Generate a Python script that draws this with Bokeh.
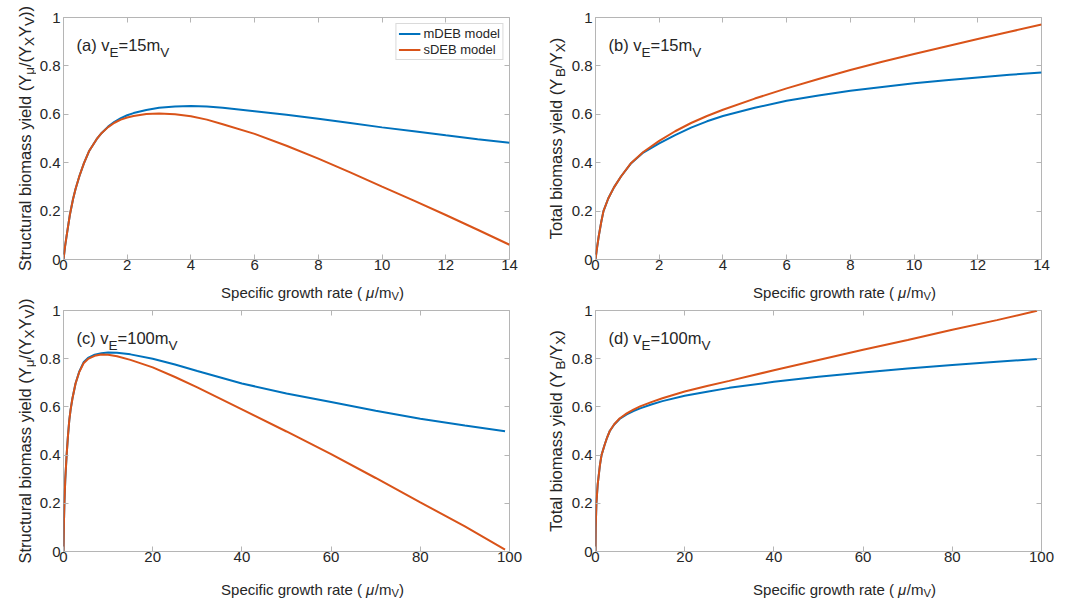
import math
from bokeh.plotting import figure
from bokeh.layouts import column, row
from bokeh.models import Label, FixedTicker, LinearAxis, Range1d, CustomLabelingPolicy
from bokeh.embed import file_html
from bokeh.resources import INLINE

# ---------------- data ----------------
# (a) v_E = 15 m_V : structural biomass yield
xa = [0, 0.05, 0.1, 0.2, 0.3, 0.38, 0.5, 0.64, 0.8, 1.04, 1.2, 1.4, 1.6, 1.8, 2.0, 2.2, 2.6, 3, 3.5,
      4, 4.5, 5, 6, 7, 8, 9, 10, 11, 12, 13, 14]
a_mdeb = [0, 0.055, 0.1, 0.185, 0.25, 0.292, 0.345, 0.397, 0.447, 0.497, 0.523, 0.549, 0.569, 0.584,
          0.596, 0.605, 0.618, 0.627, 0.632, 0.634, 0.632, 0.627, 0.613, 0.598, 0.582, 0.564, 0.546,
          0.53, 0.513, 0.497, 0.482]
a_sdeb = [0, 0.055, 0.1, 0.185, 0.25, 0.292, 0.345, 0.397, 0.447, 0.497, 0.523, 0.547, 0.565, 0.578,
          0.587, 0.593, 0.601, 0.603, 0.6, 0.592, 0.578, 0.559, 0.519, 0.47, 0.417, 0.36, 0.301,
          0.243, 0.184, 0.123, 0.061]

# (b) v_E = 15 m_V : total biomass yield
xb = [0, 0.05, 0.1, 0.18, 0.25, 0.4, 0.58, 0.8, 1.12, 1.5, 2, 2.5, 3, 3.5, 4, 5, 6, 7, 8, 9, 10,
      11, 12, 13, 14]
b_mdeb = [0, 0.05, 0.095, 0.155, 0.2, 0.252, 0.298, 0.343, 0.398, 0.442, 0.48, 0.514, 0.545, 0.571,
          0.593, 0.627, 0.656, 0.678, 0.697, 0.713, 0.728, 0.741, 0.752, 0.763, 0.773]
b_sdeb = [0, 0.05, 0.095, 0.155, 0.2, 0.252, 0.298, 0.343, 0.399, 0.444, 0.49, 0.53, 0.564, 0.593,
          0.619, 0.665, 0.707, 0.746, 0.783, 0.817, 0.849, 0.88, 0.911, 0.941, 0.971]

# (c) v_E = 100 m_V : structural biomass yield
xc = [0, 0.1, 0.2, 0.4, 0.7, 1.0, 1.3, 1.6, 2.0, 2.7, 3.5, 4.5, 5.5, 7, 8.5, 10, 12, 15, 20, 25,
      30, 40, 50, 60, 70, 80, 90, 99]
c_mdeb = [0, 0.12, 0.2, 0.3, 0.4, 0.48, 0.545, 0.59, 0.635, 0.697, 0.745, 0.785, 0.803, 0.817,
          0.823, 0.826, 0.825, 0.818, 0.80, 0.776, 0.749, 0.697, 0.656, 0.62, 0.584, 0.551, 0.523,
          0.499]
c_sdeb = [0, 0.12, 0.2, 0.3, 0.4, 0.48, 0.545, 0.59, 0.635, 0.697, 0.743, 0.781, 0.799, 0.812,
          0.817, 0.816, 0.81, 0.795, 0.764, 0.724, 0.681, 0.59, 0.498, 0.404, 0.305, 0.204, 0.104,
          0.008]

# (d) v_E = 100 m_V : total biomass yield
xd = [0, 0.05, 0.2, 0.5, 1.0, 1.35, 2, 2.6, 3.2, 4.2, 5.4, 7, 8.5, 10, 12.5, 15, 20, 25, 30, 40,
      50, 60, 70, 80, 90, 99]
d_mdeb = [0, 0.1, 0.2, 0.28, 0.36, 0.4, 0.44, 0.473, 0.5, 0.527, 0.55, 0.569, 0.583, 0.594, 0.61,
          0.624, 0.646, 0.663, 0.679, 0.704, 0.725, 0.743, 0.759, 0.774, 0.787, 0.799]
d_sdeb = [0, 0.1, 0.2, 0.28, 0.36, 0.4, 0.44, 0.473, 0.5, 0.528, 0.552, 0.573, 0.589, 0.602, 0.62,
          0.636, 0.664, 0.687, 0.708, 0.752, 0.795, 0.837, 0.878, 0.92, 0.96, 0.999]

series_names = ["mDEB model", "sDEB model"]
y_ticks = [0, 0.2, 0.4, 0.6, 0.8, 1]
y_tick_labels = ["0", "0.2", "0.4", "0.6", "0.8", "1"]
x_ticks_top = [0, 2, 4, 6, 8, 10, 12, 14]
x_ticks_bottom = [0, 20, 40, 60, 80, 100]

panel_titles = [
    [("(a) v", "n"), ("E", "sub"), ("=15m", "n"), ("V", "sub")],
    [("(b) v", "n"), ("E", "sub"), ("=15m", "n"), ("V", "sub")],
    [("(c) v", "n"), ("E", "sub"), ("=100m", "n"), ("V", "sub")],
    [("(d) v", "n"), ("E", "sub"), ("=100m", "n"), ("V", "sub")],
]
x_label = [("Specific growth rate ( ", "n"), ("μ", "it"), ("/m", "n"), ("V", "sub"), (")", "n")]
y_label_struct = [("Structural biomass yield (Y", "n"), ("μ", "sub"), ("/(Y", "n"), ("X", "sub"),
                  ("Y", "n"), ("V", "sub"), ("))", "n")]
y_label_total = [("Total biomass yield (Y", "n"), ("B", "sub"), ("/Y", "n"), ("X", "sub"), (")", "n")]

# ---------------- style ----------------
BLUE = "#0072BD"
ORANGE = "#D95319"
TXT = "#262626"
GRID = "#b5b5b5"
FONT = "Liberation Sans"

# Arial / Liberation Sans advance widths (1/1000 em)
W = {" ": 278, "(": 333, ")": 333, "/": 278, "=": 584, ".": 278,
     "S": 667, "T": 611, "V": 667, "X": 667, "Y": 667, "B": 667, "E": 667,
     "a": 556, "b": 556, "c": 500, "d": 556, "e": 556, "f": 278, "g": 556, "h": 556,
     "i": 222, "l": 222, "m": 833, "o": 556, "p": 556, "r": 333, "s": 500, "t": 278,
     "u": 556, "v": 500, "w": 722, "y": 500, "μ": 576}


def tw(s, size):
    return sum(W.get(ch, 556) for ch in s) * size / 1000.0


def rich(p, pieces, x, y, size, rotated=False, anchor="left", shift_px=None, sub_frac=0.82):
    """Place text pieces with subscripts; x, y are frame-relative screen units."""
    sub_size = size * sub_frac
    sub_shift = size * 0.4 if shift_px is None else shift_px
    widths = [tw(t, sub_size if k == "sub" else size) for t, k in pieces]
    total = sum(widths)
    pos = -total / 2.0 if anchor == "center" else 0.0
    for (t, k), w in zip(pieces, widths):
        fs = sub_size if k == "sub" else size
        shift = sub_shift if k == "sub" else 0.0
        if rotated:
            lx, ly, ang = x + shift, y + pos, math.pi / 2
        else:
            lx, ly, ang = x + pos, y - shift, 0.0
        p.add_layout(Label(x=lx, y=ly, x_units="screen", y_units="screen", text=t, angle=ang,
                           text_font=FONT, text_font_size=f"{fs:.1f}px", text_color=TXT,
                           text_align="left", text_baseline="alphabetic",
                           text_font_style="italic" if k == "it" else "normal"))
        pos += w


def blank_fig(w, h):
    f = figure(width=w, height=h, output_backend="svg", toolbar_location=None,
               x_range=Range1d(0, 1), y_range=Range1d(0, 1),
               min_border=0, x_axis_location=None, y_axis_location=None)
    f.outline_line_color = None
    f.background_fill_color = "white"
    f.border_fill_color = "white"
    f.grid.visible = False
    return f


FW = 448
TICK_FS = "15px"
TOTAL_H = 599
BL = 25


def make_panel(xs, m, s, xmax, xticks, title, top_row, right_col, legend=False):
    fh = 242 if top_row else 241
    bt = 17 if top_row else 9
    bb = 18
    h = bt + fh + bb
    br = 23 if right_col else 21
    w = BL + FW + br
    p = figure(width=w, height=h, output_backend="svg", toolbar_location=None,
               x_range=Range1d(0, xmax), y_range=Range1d(0, 1),
               min_border_left=BL, min_border_right=br,
               min_border_top=bt, min_border_bottom=bb,
               x_axis_location=None, y_axis_location=None)
    p.background_fill_color = "white"
    p.border_fill_color = "white"
    p.outline_line_color = GRID
    p.outline_line_width = 1
    p.grid.visible = False

    overrides = {t: l for t, l in zip(y_ticks, y_tick_labels)}
    hide = CustomLabelingPolicy(code="return new Set()")
    for side, ticks in [("below", xticks), ("above", xticks), ("left", y_ticks), ("right", y_ticks)]:
        ax = LinearAxis(ticker=FixedTicker(ticks=ticks))
        ax.axis_line_color = None
        ax.major_tick_line_color = GRID
        ax.major_tick_in = 5
        ax.major_tick_out = 0
        ax.minor_tick_line_color = None
        if side in ("below", "left"):
            ax.major_label_text_font = FONT
            ax.major_label_text_font_size = TICK_FS
            ax.major_label_text_color = TXT
            ax.major_label_standoff = 0 if side == "below" else 3
            if side == "left":
                ax.major_label_overrides = overrides
        else:
            ax.major_label_text_font_size = "1px"
            ax.major_label_standoff = 0
            ax.major_label_overrides = {t: "" for t in ticks}
            ax.major_label_policy = hide
        p.add_layout(ax, side)

    if legend:
        p.line(xs, m, color=BLUE, line_width=2, legend_label=series_names[0])
        p.line(xs, s, color=ORANGE, line_width=2, legend_label=series_names[1])
        lg = p.legend[0]
        lg.location = "top_right"
        lg.margin = 6
        lg.padding = 2
        lg.spacing = 1
        lg.glyph_width = 22
        lg.glyph_height = 15
        lg.label_height = 15
        lg.label_width = 10
        lg.label_standoff = 3
        lg.label_text_font = FONT
        lg.label_text_font_size = "13px"
        lg.label_text_color = TXT
        lg.border_line_color = GRID
        lg.border_line_width = 1
        lg.background_fill_alpha = 1
    else:
        p.line(xs, m, color=BLUE, line_width=2)
        p.line(xs, s, color=ORANGE, line_width=2)

    rich(p, title, 13, fh - 27, 16.5, shift_px=8)
    return p, w, h


def make_xlab(w, h, baseline_from_bottom):
    f = blank_fig(w, h)
    rich(f, x_label, BL + FW / 2.0, baseline_from_bottom, 15, anchor="center", shift_px=3, sub_frac=0.75)
    return f


def make_ylab(pieces, w, baseline_x):
    f = blank_fig(w, TOTAL_H)
    # frame centres: top row page y 138, bottom row page y 430.5
    rich(f, pieces, baseline_x, TOTAL_H - 138, 16.5, rotated=True, anchor="center", shift_px=5)
    rich(f, pieces, baseline_x, TOTAL_H - 430.5, 16.5, rotated=True, anchor="center", shift_px=5)
    return f


# left column page y: pa 0..277, x-label 277..301, pc 301..569, x-label 569..599
pa, wa, ha = make_panel(xa, a_mdeb, a_sdeb, 14, x_ticks_top, panel_titles[0], True, False, legend=True)
pb, wb, hb = make_panel(xb, b_mdeb, b_sdeb, 14, x_ticks_top, panel_titles[1], True, True)
pc, wc, hc = make_panel(xc, c_mdeb, c_sdeb, 100, x_ticks_bottom, panel_titles[2], False, False)
pd, wd, hd = make_panel(xd, d_mdeb, d_sdeb, 100, x_ticks_bottom, panel_titles[3], False, True)

gap_h = 301 - ha
xa_lab = make_xlab(wa, gap_h, 9)
xb_lab = make_xlab(wb, gap_h, 9)
last_h = TOTAL_H - ha - gap_h - hc
xc_lab = make_xlab(wc, last_h, 10)
xd_lab = make_xlab(wd, last_h, 10)

y_left = make_ylab(y_label_struct, 61 - BL, 24)
y_right = make_ylab(y_label_total, 593 - 530 - BL, 25)

layout = row(
    y_left, column(pa, xa_lab, pc, xc_lab),
    y_right, column(pb, xb_lab, pd, xd_lab),
)
open("out.html", "w").write(file_html(layout, INLINE))
